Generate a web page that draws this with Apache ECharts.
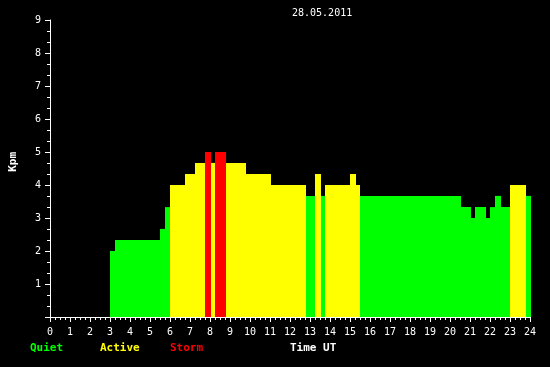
<!DOCTYPE html>
<html><head><meta charset="utf-8">
<script src="https://cdn.jsdelivr.net/npm/echarts@6/dist/echarts.min.js"></script>
<style>html,body{margin:0;padding:0;background:#000;}#c{width:550px;height:367px;}</style>
</head><body><div id="c"></div>
<script>
const title = '28.05.2011';
const startHours = [3.0,3.25,5.5,5.75,6.0,6.75,7.25,7.75,8.05,8.25,8.8,9.8,11.05,12.8,13.25,13.55,13.75,15.0,15.3,15.5,20.55,21.05,21.25,21.8,22.0,22.25,22.55,23.0,23.8];
const endHours   = [3.25,5.5,5.75,6.0,6.75,7.25,7.75,8.05,8.25,8.8,9.8,11.05,12.8,13.25,13.55,13.75,15.0,15.3,15.5,20.55,21.05,21.25,21.8,22.0,22.25,22.55,23.0,23.8,24.05];
const kpValues   = [2.0,2.33,2.67,3.33,4.0,4.33,4.67,5.0,4.67,5.0,4.67,4.33,4.0,3.67,4.33,3.67,4.0,4.33,4.0,3.67,3.33,3.0,3.33,3.0,3.33,3.67,3.33,4.0,3.67];
const legendLabels = ['Quiet','Active','Storm'];
const legendColors = ['#00ff00','#ffff00','#ff0000'];

function colorFor(v){ return v >= 5 ? legendColors[2] : (v >= 4 ? legendColors[1] : legendColors[0]); }
const data = startHours.map((s,i)=>[s,endHours[i],kpValues[i]]);
const font = 'DejaVu Sans Mono';
const chart = echarts.init(document.getElementById('c'));
chart.setOption({
  backgroundColor:'#000',
  animation:false,
  title:{text:title,left:287,top:3,textStyle:{color:'#fff',fontSize:10,fontFamily:font,fontWeight:'normal'}},
  grid:{left:50,right:20,top:20,bottom:50},
  xAxis:{type:'value',min:0,max:24,interval:1,
    axisLine:{show:true,lineStyle:{color:'#fff',width:1}},
    axisTick:{show:true,length:5,lineStyle:{color:'#fff'}},
    minorTick:{show:true,splitNumber:4,length:3,lineStyle:{color:'#fff'}},
    splitLine:{show:false},
    axisLabel:{color:'#fff',fontSize:10,fontFamily:font,margin:10}},
  yAxis:{type:'value',min:0,max:9,interval:1,
    axisLine:{show:true,lineStyle:{color:'#fff',width:1}},
    axisTick:{show:true,length:5,lineStyle:{color:'#fff'}},
    minorTick:{show:true,splitNumber:3,length:3,lineStyle:{color:'#fff'}},
    splitLine:{show:false},
    axisLabel:{color:'#fff',fontSize:10,fontFamily:font,margin:9,formatter:v=>v===0?'':String(v)}},
  graphic:[
    {type:'text',left:8,top:152,rotation:Math.PI/2,style:{text:'Kpm',fill:'#fff',font:'bold 11px '+font}},
    {type:'text',left:30,top:343,style:{text:legendLabels[0],fill:legendColors[0],font:'bold 11px '+font}},
    {type:'text',left:100,top:343,style:{text:legendLabels[1],fill:legendColors[1],font:'bold 11px '+font}},
    {type:'text',left:170,top:343,style:{text:legendLabels[2],fill:legendColors[2],font:'bold 11px '+font}},
    {type:'text',left:290,top:343,style:{text:'Time UT',fill:'#fff',font:'bold 11px '+font}}
  ],
  series:[{
    type:'custom',clip:false,
    data:data,
    encode:{x:[0,1],y:2},
    renderItem:function(params,api){
      const p1 = api.coord([api.value(0),api.value(2)]);
      const p2 = api.coord([api.value(1),0]);
      return {type:'rect',shape:{x:p1[0],y:p1[1],width:p2[0]-p1[0],height:p2[1]-p1[1]},
        style:{fill:colorFor(api.value(2))}};
    }
  }]
});
</script></body></html>
